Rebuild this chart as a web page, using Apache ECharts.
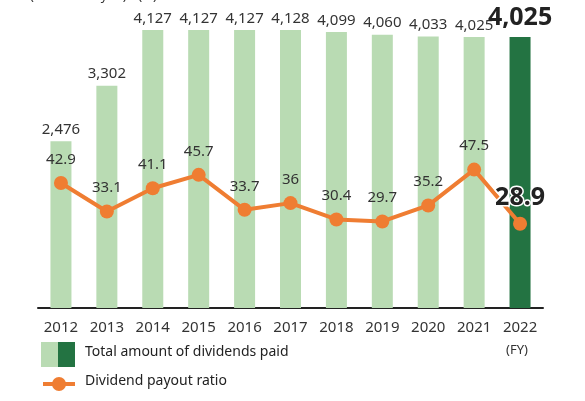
<!DOCTYPE html>
<html>
<head>
<meta charset="utf-8">
<script src="https://cdn.jsdelivr.net/npm/echarts@6/dist/echarts.min.js"></script>
<style>
  html, body { margin: 0; padding: 0; background: #fff; }
  #chart { width: 585px; height: 401px; }
</style>
</head>
<body>
<div id="chart"></div>
<script>
// 年度
var years = ['2012', '2013', '2014', '2015', '2016', '2017', '2018', '2019', '2020', '2021', '2022'];
// 配当金総額（百万円）
var dividends = [2476, 3302, 4127, 4127, 4127, 4128, 4099, 4060, 4033, 4025, 4025];
// 配当性向（%）
var payoutRatio = [42.9, 33.1, 41.1, 45.7, 33.7, 36, 30.4, 29.7, 35.2, 47.5, 28.9];

var font = '"Noto Sans", sans-serif';
var lightGreen = '#b9dbb3';
var darkGreen = '#237342';
var orange = '#ef7d32';
var last = years.length - 1;

// 最終年度だけ色と文字を強調
var barData = dividends.map(function (v, i) {
  if (i === last) {
    return {
      value: v,
      itemStyle: { color: darkGreen },
      label: { fontSize: 25, fontWeight: 'bold', color: '#222', distance: 7 }
    };
  }
  return v;
});

var lineData = payoutRatio.map(function (v, i) {
  if (i === last) {
    return {
      value: v,
      label: { fontSize: 25, fontWeight: 'bold', color: '#222', distance: 6,
               textBorderColor: '#fff', textBorderWidth: 3 }
    };
  }
  return v;
});

var chart = echarts.init(document.getElementById('chart'));
chart.setOption({
  animation: false,
  textStyle: { fontFamily: font },
  grid: { left: 38, right: 42, top: 5, bottom: 93 },
  xAxis: {
    type: 'category',
    data: years,
    axisLine: { lineStyle: { color: '#222', width: 2 } },
    axisTick: { show: false },
    axisLabel: { color: '#333', fontSize: 15, margin: 12, fontFamily: font }
  },
  yAxis: [
    { type: 'value', min: 0, max: 4500, show: false, splitLine: { show: false } },
    { type: 'value', min: 0, max: 104, show: false, splitLine: { show: false } }
  ],
  series: [
    {
      type: 'bar',
      data: barData,
      barWidth: 21,
      itemStyle: { color: lightGreen },
      label: {
        show: true, position: 'top', distance: 4, color: '#333', fontSize: 15,
        fontFamily: font,
        formatter: function (p) { return p.value.toLocaleString('en-US'); }
      }
    },
    {
      type: 'line',
      yAxisIndex: 1,
      data: lineData,
      symbol: 'circle',
      symbolSize: 14,
      lineStyle: { color: orange, width: 4 },
      itemStyle: { color: orange },
      label: { show: true, position: 'top', distance: 9, color: '#333', fontSize: 15, fontFamily: font },
      z: 3
    }
  ],
  graphic: [
    { type: 'text', left: 30, top: -10,
      style: { text: '(millions of yen) / (%)', fontSize: 13, fill: '#333', fontFamily: font } },
    { type: 'text', left: 506, top: 344,
      style: { text: '(FY)', fontSize: 13, fill: '#333', fontFamily: font } },
    { type: 'rect', shape: { x: 41, y: 342, width: 17, height: 25 }, style: { fill: lightGreen } },
    { type: 'rect', shape: { x: 58, y: 342, width: 17, height: 25 }, style: { fill: darkGreen } },
    { type: 'text', left: 85, top: 345,
      style: { text: 'Total amount of dividends paid', fontSize: 14, fill: '#222', fontFamily: font } },
    { type: 'line', shape: { x1: 43, y1: 384, x2: 75, y2: 384 }, style: { stroke: orange, lineWidth: 4 } },
    { type: 'circle', shape: { cx: 59, cy: 384, r: 7 }, style: { fill: orange } },
    { type: 'text', left: 85, top: 374,
      style: { text: 'Dividend payout ratio', fontSize: 14, fill: '#222', fontFamily: font } }
  ]
});
</script>
</body>
</html>
